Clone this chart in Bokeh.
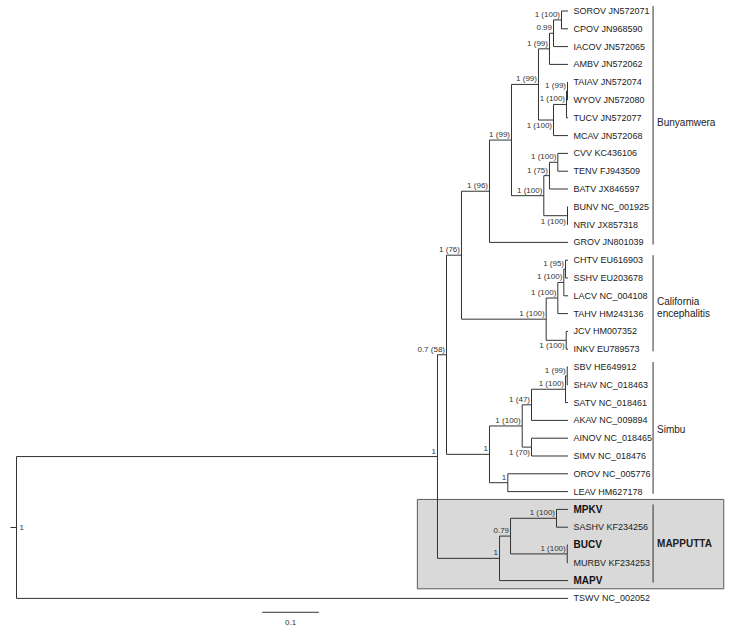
from bokeh.plotting import figure
from bokeh.models import Range1d, ColumnDataSource
from bokeh.embed import file_html
from bokeh.resources import INLINE
from bokeh.core.properties import value

# ---------------- data ----------------
tip_labels = [
    "SOROV JN572071", "CPOV JN968590", "IACOV JN572065", "AMBV JN572062",
    "TAIAV JN572074", "WYOV JN572080", "TUCV JN572077", "MCAV JN572068",
    "CVV KC436106", "TENV FJ943509", "BATV JX846597", "BUNV NC_001925",
    "NRIV JX857318", "GROV JN801039", "CHTV EU616903", "SSHV EU203678",
    "LACV NC_004108", "TAHV HM243136", "JCV HM007352", "INKV EU789573",
    "SBV HE649912", "SHAV NC_018463", "SATV NC_018461", "AKAV NC_009894",
    "AINOV NC_018465", "SIMV NC_018476", "OROV NC_005776", "LEAV HM627178",
    "MPKV", "SASHV KF234256", "BUCV", "MURBV KF234253", "MAPV", "TSWV NC_002052",
]
tip_parent = [9, 9, 8, 7, 12, 12, 11, 10, 15, 15, 14, 16, 16, 4,
              20, 20, 19, 18, 21, 21, 26, 26, 25, 24, 27, 27, 28, 28,
              31, 31, 32, 32, 29, 0]
tip_bold = [False] * 28 + [True, False, True, False, True, False]
tip_depth = 0.9727

# internal nodes (parents always listed before children)
node_parent = [None, 0, 1, 2, 3, 4, 5, 6, 7, 8, 6, 10, 11, 5, 13, 14, 13,
               3, 17, 18, 19, 17, 2, 22, 23, 24, 25, 23, 22, 1, 29, 30, 30]
node_depth = [0.0, 0.7425, 0.7584, 0.7848, 0.8342, 0.8730, 0.9206, 0.9400,
              0.9471, 0.9612, 0.9471, 0.9700, 0.9718, 0.9300, 0.9400, 0.9547,
              0.9718, 0.9342, 0.9547, 0.9653, 0.9683, 0.9695, 0.8342, 0.8919,
              0.9083, 0.9683, 0.9713, 0.9083, 0.8665, 0.8519, 0.8713, 0.9524,
              0.9713]
node_support = ["1", "1", "0.7 (58)", "1 (76)", "1 (96)", "1 (99)", "1 (99)",
                "1 (99)", "0.99", "1 (100)", "1 (100)", "1 (100)", "1 (99)",
                "1 (100)", "1 (75)", "1 (100)", "1 (100)", "1 (100)", "1 (100)",
                "1 (100)", "1 (95)", "1 (100)", "1", "1 (100)", "1 (47)",
                "1 (100)", "1 (99)", "1 (70)", "1", "1", "0.79", "1 (100)",
                "1 (100)"]
node_label_below = [False] * 33
for _i in (10, 16, 21, 27):
    node_label_below[_i] = True

clade_names = ["Bunyamwera", "California", "Simbu", "MAPPUTTA"]
clade_sub = ["", "encephalitis", "", ""]
clade_first = [0, 14, 20, 28]
clade_last = [13, 19, 27, 32]
clade_bold = [False, False, False, True]
highlight_clade = 3

scale_bar_length = 0.1
scale_bar_label = "0.1"

# ---------------- layout ----------------
FONT = "Liberation Sans"
LINE = "#333333"
bar_x = tip_depth + 0.150
box_left = node_depth[1] - 0.0355
box_right = 1.2474
scale_x0 = 0.4333
scale_y = len(tip_labels) - 1 + 0.78
clade_text_shift = [-4, 0, 0, -1]

# ---------------- compute node y ----------------
n_nodes = len(node_parent)
children_y = [[] for _ in range(n_nodes)]
for i, par in enumerate(tip_parent):
    children_y[par].append(float(i))
node_y = [0.0] * n_nodes
for i in range(n_nodes - 1, -1, -1):
    ys = children_y[i]
    node_y[i] = (min(ys) + max(ys)) / 2
    if node_parent[i] is not None:
        children_y[node_parent[i]].append(node_y[i])

hx0, hx1, hy = [], [], []
for i, par in enumerate(tip_parent):
    hx0.append(node_depth[par]); hx1.append(tip_depth); hy.append(float(i))
for i in range(1, n_nodes):
    hx0.append(node_depth[node_parent[i]]); hx1.append(node_depth[i]); hy.append(node_y[i])
vx, vy0, vy1 = [], [], []
for i in range(n_nodes):
    vx.append(node_depth[i]); vy0.append(min(children_y[i])); vy1.append(max(children_y[i]))

p = figure(width=733, height=633, output_backend="svg", toolbar_location=None,
           x_range=Range1d(-0.02822, 1.26455), y_range=Range1d(34.972, -0.5899),
           x_axis_location=None, y_axis_location=None, min_border=0)
p.grid.visible = False
p.outline_line_color = None
p.background_fill_color = "white"
p.border_fill_color = "white"

# highlight box
p.quad(left=[box_left], right=[box_right],
       top=[clade_first[highlight_clade] - 0.56], bottom=[clade_last[highlight_clade] + 0.46],
       fill_color="#d9d9d9", line_color="#5a5a5a", line_width=1)

p.segment(x0=hx0, y0=hy, x1=hx1, y1=hy, line_color=LINE, line_width=1)
p.segment(x0=vx, y0=vy0, x1=vx, y1=vy1, line_color=LINE, line_width=1)
# root stem
p.segment(x0=[node_depth[0] - 0.0106], y0=[node_y[0]], x1=[node_depth[0]], y1=[node_y[0]],
          line_color=LINE, line_width=1)

# support labels
above = [i for i in range(1, n_nodes) if not node_label_below[i]]
below = [i for i in range(1, n_nodes) if node_label_below[i]]
for idx, yoff in ((above, -5.5), (below, 5.5)):
    src = ColumnDataSource(dict(x=[node_depth[i] for i in idx], y=[node_y[i] for i in idx],
                                t=[node_support[i] for i in idx]))
    p.text(x="x", y="y", text="t", source=src, text_align="right", text_baseline="middle",
           x_offset=-1.5, y_offset=yoff, text_font=value(FONT), text_font_size="8px",
           text_color="#333333")
p.text(x=[node_depth[0]], y=[node_y[0]], text=[node_support[0]], text_align="left",
       text_baseline="middle", x_offset=3, text_font=value(FONT), text_font_size="8px",
       text_color="#333333")

# tip labels
reg = [i for i in range(len(tip_labels)) if not tip_bold[i]]
bld = [i for i in range(len(tip_labels)) if tip_bold[i]]
p.text(x=[tip_depth] * len(reg), y=[float(i) for i in reg], text=[tip_labels[i] for i in reg],
       text_align="left", text_baseline="middle", x_offset=5.5, text_font=value(FONT),
       text_font_size="9px", text_color="#222222")
p.text(x=[tip_depth] * len(bld), y=[float(i) for i in bld], text=[tip_labels[i] for i in bld],
       text_align="left", text_baseline="middle", x_offset=5.5, text_font=value(FONT),
       text_font_size="10px", text_font_style="bold", text_color="#111111")

# clade bars and names
p.segment(x0=[bar_x] * 4, y0=[f - 0.28 for f in clade_first], x1=[bar_x] * 4,
          y1=[l + 0.12 for l in clade_last], line_color=LINE, line_width=1)
for k in range(len(clade_names)):
    mid = (clade_first[k] + clade_last[k]) / 2
    style = "bold" if clade_bold[k] else "normal"
    if clade_sub[k]:
        p.text(x=[bar_x, bar_x], y=[mid, mid], text=[clade_names[k], clade_sub[k]],
               text_align="left", text_baseline="middle", x_offset=4, y_offset=[-3, 8.7],
               text_font=value(FONT), text_font_size="10px", text_color="#222222")
    else:
        p.text(x=[bar_x], y=[mid], text=[clade_names[k]], text_align="left",
               text_baseline="middle", x_offset=4, y_offset=clade_text_shift[k],
               text_font=value(FONT), text_font_size="10px", text_font_style=style,
               text_color="#222222")

# scale bar
p.segment(x0=[scale_x0], y0=[scale_y], x1=[scale_x0 + scale_bar_length], y1=[scale_y],
          line_color=LINE, line_width=1)
p.text(x=[scale_x0 + scale_bar_length / 2], y=[scale_y + 0.57], text=[scale_bar_label],
       text_align="center", text_baseline="middle", text_font=value(FONT),
       text_font_size="8px", text_color="#333333")

open("out.html", "w").write(file_html(p, INLINE))
